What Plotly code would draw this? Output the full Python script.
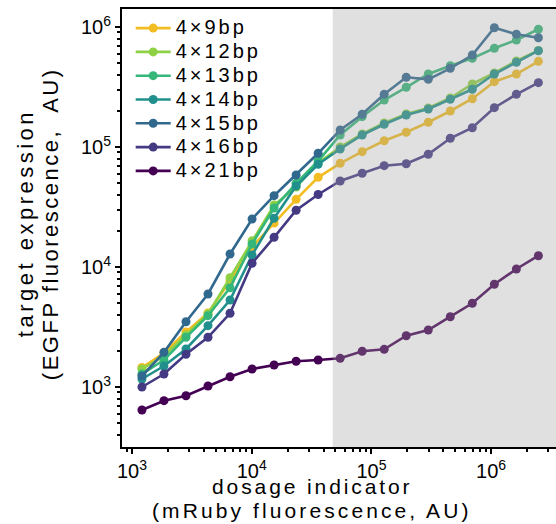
import plotly.graph_objects as go

# ---- data ----
DOSAGE = [1211, 1849, 2825, 4315, 6592, 10070, 15380, 23500, 35890, 54830,
          83750, 127900, 195400, 298500, 456000, 696600, 1064000, 1626000, 2483000]

SERIES_NAMES = ["4×9bp", "4×12bp", "4×13bp", "4×14bp", "4×15bp", "4×16bp", "4×21bp"]

EXPR_4x9 = [1453, 1920, 2873, 4138, 7647, 14680, 23260, 36650, 55920, 73140,
            91390, 112800, 132600, 160700, 199500, 252600, 350200, 405600, 517600]
EXPR_4x12 = [1413, 1812, 2712, 4058, 8143, 16570, 32860, 46420, 73560, 100000,
             128300, 158500, 188400, 211300, 256000, 335000, 413800, 520800, 637100]
EXPR_4x13 = [1283, 1679, 2595, 3929, 6722, 15550, 31010, 49830, 76420, 125900,
             178900, 246400, 314500, 405800, 475900, 548300, 664500, 779500, 957000]
EXPR_4x14 = [1166, 1496, 2073, 3243, 5309, 12590, 25450, 47320, 71750, 96230,
             125900, 154600, 184800, 207300, 249700, 302600, 405800, 507900, 634600]
EXPR_4x15 = [1235, 1946, 3501, 5957, 12830, 25120, 39290, 58440, 88630, 138600,
             187300, 274900, 380900, 366600, 452700, 584400, 986700, 869300, 814400]
EXPR_4x16 = [1000, 1283, 1873, 2595, 4113, 10740, 17680, 29690, 40200, 52080,
             60480, 69860, 72580, 86950, 118200, 144800, 212600, 274900, 343500]
EXPR_4x21 = [643, 769, 846, 1019, 1218, 1413, 1525, 1638, 1679, 1734,
             1984, 2060, 2676, 2985, 3852, 4984, 7178, 9622, 12420]

SHADE_START = 47500

TICK_VALS = [1e3, 1e4, 1e5, 1e6]
TICK_TEXT = ["10<sup>3</sup>", "10<sup>4</sup>", "10<sup>5</sup>", "10<sup>6</sup>"]

X_TITLE = ["dosage indicator", "(mRuby fluorescence, AU)"]
Y_TITLE = ["target expression", "(EGFP fluorescence,\u00a0 AU)"]

# ---- style ----
COLORS = ["#f2bd22", "#8fd144", "#35b779", "#21908d", "#31688e", "#443a83", "#440154"]
FONT = "Liberation Sans, Arial, sans-serif"


def styled(txt, spacing, size=None):
    st = "letter-spacing:%spx" % spacing
    if size:
        st += ";font-size:%spx" % size
    return "<span style='%s'>%s</span>" % (st, txt)


all_series = [EXPR_4x9, EXPR_4x12, EXPR_4x13, EXPR_4x14, EXPR_4x15, EXPR_4x16, EXPR_4x21]

fig = go.Figure()
for name, ys, col in zip(SERIES_NAMES, all_series, COLORS):
    fig.add_trace(go.Scatter(
        x=DOSAGE, y=ys, mode="lines+markers", name=styled(name, 3, 20),
        line=dict(color=col, width=2.6),
        marker=dict(color=col, size=9),
    ))

fig.add_shape(type="rect", xref="x", yref="paper", x0=SHADE_START, x1=1e8,
              y0=0, y1=1, fillcolor="rgba(161,161,161,0.33)", line=dict(width=0),
              layer="above")

axis_common = dict(
    type="log", tickmode="array", tickvals=TICK_VALS, ticktext=TICK_TEXT,
    ticks="outside", ticklen=5, tickwidth=2, tickcolor="black",
    showline=True, linecolor="black", linewidth=2, showgrid=False, zeroline=False,
    tickfont=dict(family=FONT, size=20, color="black"),
    minor=dict(ticks="outside", ticklen=3, tickwidth=1.5, tickcolor="black",
               dtick="D1", showgrid=False),
)

fig.update_xaxes(range=[2.9165, 6.542], mirror=True, **axis_common)
fig.update_yaxes(range=[2.5, 6.15], **axis_common)

ann = []
ann.append(dict(text=styled(X_TITLE[0], 2.9), xref="paper", yref="paper",
                x=0.4378, y=-0.0895, showarrow=False, xanchor="center", yanchor="middle",
                borderpad=0, font=dict(family=FONT, size=21, color="black")))
ann.append(dict(text=styled(X_TITLE[1], 3.1), xref="paper", yref="paper",
                x=0.4378, y=-0.1445, showarrow=False, xanchor="center", yanchor="middle",
                borderpad=0, font=dict(family=FONT, size=21, color="black")))
ann.append(dict(text=styled(Y_TITLE[0], 3.5), xref="paper", yref="paper",
                x=-0.2235, y=0.511, showarrow=False, textangle=-90,
                xanchor="center", yanchor="middle",
                borderpad=0, font=dict(family=FONT, size=22, color="black")))
ann.append(dict(text=styled(Y_TITLE[1], 2.5), xref="paper", yref="paper",
                x=-0.166, y=0.511, showarrow=False, textangle=-90,
                xanchor="center", yanchor="middle",
                borderpad=0, font=dict(family=FONT, size=22, color="black")))

fig.update_layout(
    width=556, height=524,
    margin=dict(l=122, r=0, t=9, b=77),
    paper_bgcolor="white", plot_bgcolor="white",
    showlegend=True,
    legend=dict(x=0.02, y=0.995, xanchor="left", yanchor="top",
                bgcolor="rgba(0,0,0,0)", borderwidth=0,
                font=dict(family=FONT, size=16, color="black"),
                itemwidth=35, tracegroupgap=0),
    annotations=ann,
)

fig.write_html("out.html",
               config={"displayModeBar": False},
               post_script="document.body.style.margin='0';document.body.style.padding='0';")
